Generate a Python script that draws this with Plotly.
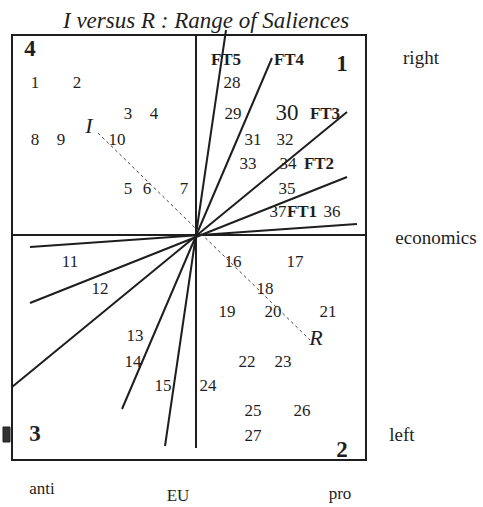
import plotly.graph_objects as go

# Party positions (numbered 1-37) in the I/R plane, origin at the centre
party_ids = [str(i) for i in range(1, 38)]
party_x = [-16.1, -11.9, -6.8, -4.2, -6.8, -4.9, -1.2, -16.1, -13.5, -7.9,
           -12.6, -9.6, -6.1, -6.3, -3.3, 3.7, 9.9, 6.9, 3.1, 7.7,
           13.2, 5.1, 8.7, 1.2, 5.7, 10.6, 5.7, 3.6, 3.7, 9.1,
           5.7, 8.9, 5.2, 9.2, 9.1, 13.6, 8.2]
party_y = [15.1, 15.1, 12.0, 12.0, 4.5, 4.5, 4.5, 9.4, 9.4, 9.4,
           -2.8, -5.5, -10.2, -12.8, -15.2, -2.8, -2.8, -5.5, -7.8, -7.8,
           -7.8, -12.8, -12.8, -15.2, -17.7, -17.7, -20.2, 15.1, 12.0, 12.1,
           9.4, 9.4, 7.0, 7.0, 4.5, 2.2, 2.2]

# Factor axes FT1-FT5: both ends of each line through the origin
ft_names = ["FT1", "FT2", "FT3", "FT4", "FT5"]
ft_pos_x = [16.1, 15.1, 15.1, 7.6, 3.0]
ft_pos_y = [1.1, 5.8, 12.3, 17.7, 20.5]
ft_neg_x = [-16.6, -16.6, -18.4, -7.4, -3.1]
ft_neg_y = [-1.2, -6.8, -15.2, -17.4, -21.1]
ft_label_x = [10.6, 12.3, 12.9, 9.3, 3.0]
ft_label_y = [2.2, 7.0, 12.0, 17.4, 17.4]

# I -> R direction
i_end = (-9.8, 10.2)
r_end = (11.4, -10.5)

# Frame and quadrant numbering
box_x = (-18.4, 17.0)
box_y = (-22.5, 20.0)
quad_labels = ["1", "2", "3", "4"]
quad_x = [14.6, 14.6, -16.1, -16.6]
quad_y = [17.0, -21.6, -20.0, 18.5]

# Pole labels around the frame
pole_labels = ["right", "economics", "left", "anti", "EU", "pro"]
pole_x = [22.5, 24.0, 20.6, -15.4, -1.8, 14.4]
pole_y = [17.6, -0.4, -20.1, -25.5, -26.2, -26.0]
pole_sizes = [19, 19, 19, 17, 17, 17]

INK = "#1e1e1e"
SERIF = "Liberation Serif, Times New Roman, serif"

fig = go.Figure()

# frame
fig.add_shape(type="rect", x0=box_x[0], x1=box_x[1], y0=box_y[0], y1=box_y[1],
              line=dict(color=INK, width=2), layer="below")
# horizontal and vertical reference axes
fig.add_trace(go.Scatter(x=[box_x[0], box_x[1], None, 0, 0],
                         y=[0, 0, None, box_y[1], -21.3],
                         mode="lines", line=dict(color=INK, width=2),
                         hoverinfo="skip", showlegend=False))

# FT lines
lx, ly = [], []
for i in range(len(ft_names)):
    lx += [ft_neg_x[i], ft_pos_x[i], None]
    ly += [ft_neg_y[i], ft_pos_y[i], None]
fig.add_trace(go.Scatter(x=lx, y=ly, mode="lines",
                         line=dict(color=INK, width=2),
                         hoverinfo="skip", showlegend=False))

# dotted I-R line
fig.add_trace(go.Scatter(x=[i_end[0], r_end[0]], y=[i_end[1], r_end[1]],
                         mode="lines", line=dict(color="#444", width=1, dash="dot"),
                         hoverinfo="skip", showlegend=False))

# party numbers
sizes = [23 if p == "30" else 17 for p in party_ids]
fig.add_trace(go.Scatter(x=party_x, y=party_y, text=party_ids, mode="text",
                         textfont=dict(family=SERIF, size=sizes, color=INK),
                         hoverinfo="skip", showlegend=False))

# FT labels
fig.add_trace(go.Scatter(x=ft_label_x, y=ft_label_y,
                         text=["<b>" + n + "</b>" for n in ft_names], mode="text",
                         textfont=dict(family=SERIF, size=17, color=INK),
                         hoverinfo="skip", showlegend=False))

# quadrant numbers
fig.add_trace(go.Scatter(x=quad_x, y=quad_y,
                         text=["<b>" + q + "</b>" for q in quad_labels], mode="text",
                         textfont=dict(family=SERIF, size=23, color=INK),
                         hoverinfo="skip", showlegend=False))

# I and R end labels
fig.add_trace(go.Scatter(x=[-10.7, 12.0], y=[10.8, -10.4],
                         text=["<i>I</i>", "<i>R</i>"], mode="text",
                         textfont=dict(family=SERIF, size=22, color=INK),
                         hoverinfo="skip", showlegend=False))

# pole labels
fig.add_trace(go.Scatter(x=pole_x, y=pole_y, text=pole_labels, mode="text",
                         textfont=dict(family=SERIF, size=pole_sizes, color=INK),
                         hoverinfo="skip", showlegend=False))

# small mark on the left edge of the frame
fig.add_shape(type="rect", x0=-19.3, x1=-18.6, y0=-20.7, y1=-19.2,
              line=dict(color=INK, width=1), fillcolor="#333")

fig.add_annotation(x=0.9, y=21.5, text="<i>I versus R : Range of Saliences</i>",
                   showarrow=False, font=dict(family=SERIF, size=23, color=INK))

fig.update_layout(
    width=483, height=507,
    margin=dict(l=0, r=0, t=0, b=0),
    paper_bgcolor="white", plot_bgcolor="white",
    xaxis=dict(range=[-19.6, 28.7], visible=False, fixedrange=True),
    yaxis=dict(range=[-27.2, 23.5], visible=False, fixedrange=True),
    showlegend=False,
)

fig.write_html("out.html")
